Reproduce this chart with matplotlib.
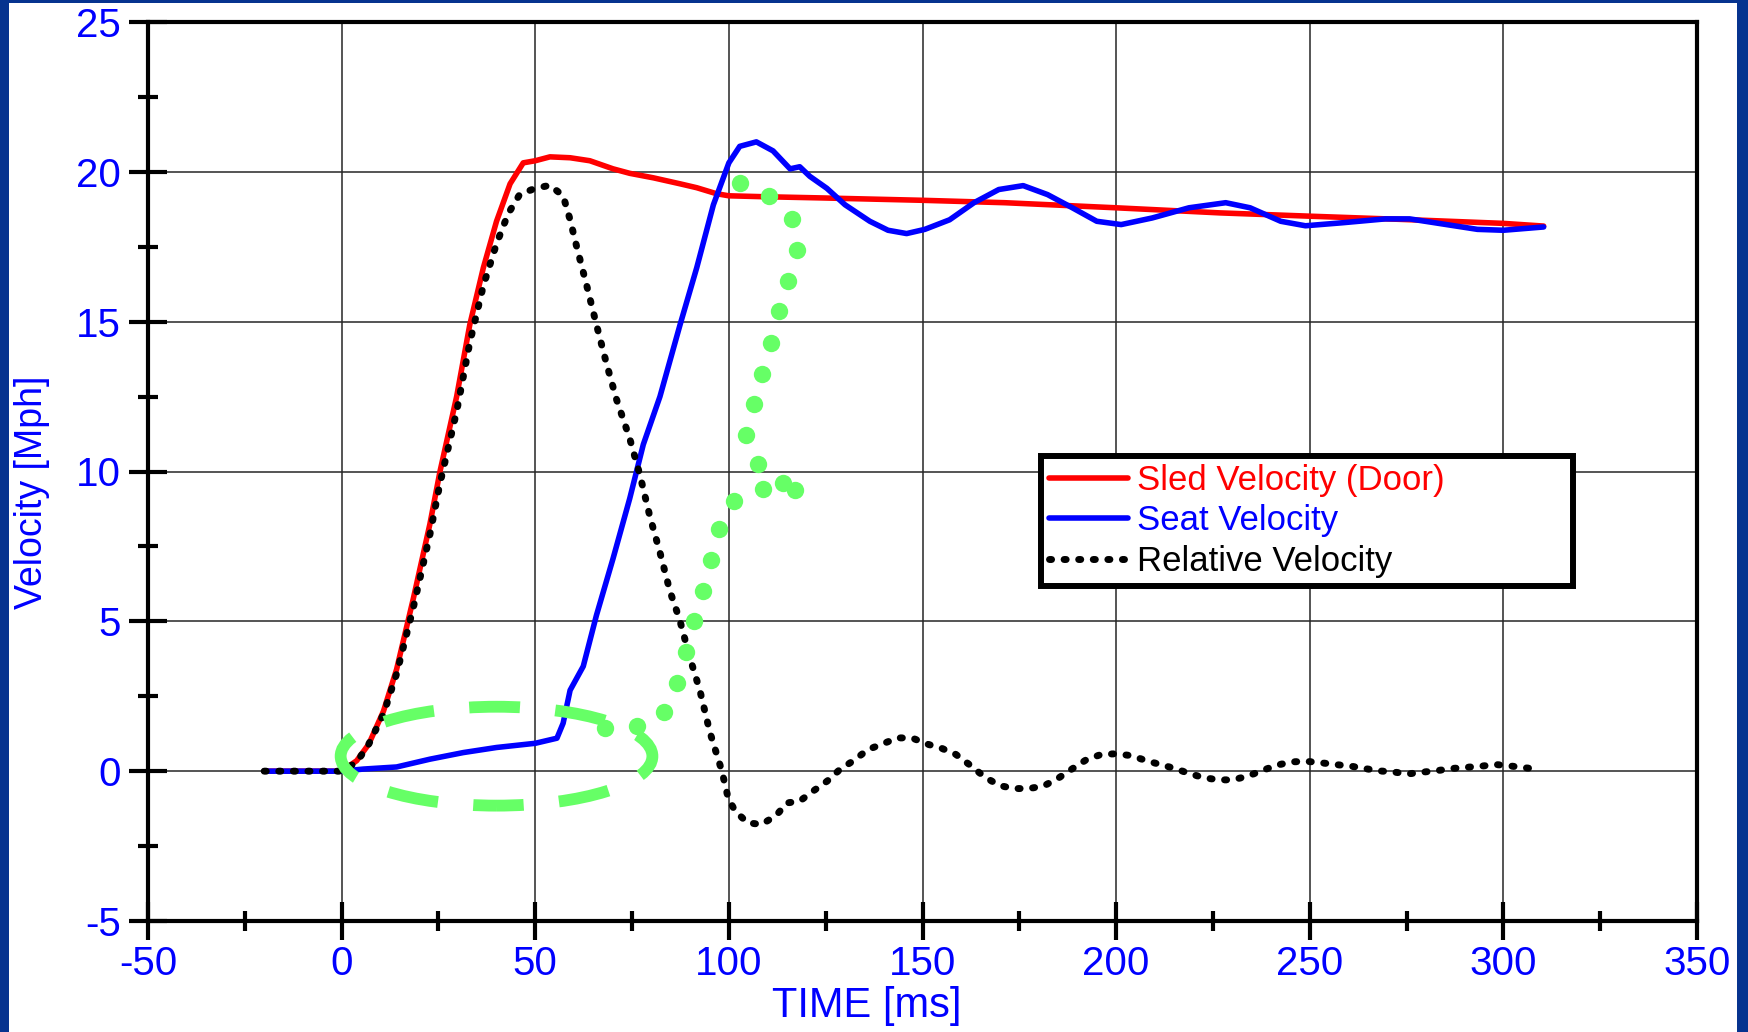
import matplotlib
matplotlib.use("Agg")
import matplotlib.pyplot as plt
from matplotlib.patches import Rectangle, Ellipse
from matplotlib.ticker import MultipleLocator

plt.rcParams["font.family"] = ["Liberation Sans", "DejaVu Sans"]
plt.rcParams["axes.unicode_minus"] = False

# ---------------------------------------------------------------------------
# Data (time in ms, velocity in mph)
# ---------------------------------------------------------------------------
sled_t = [-20, 0, 3.9, 7, 10.8, 14.2, 18.5, 22.8, 25.4, 29.7, 33.1, 36.6,
          40, 43.5, 46.9, 50, 53.8, 59, 64.1, 70.1, 74.4, 80.5, 87.4, 91.7,
          96.8, 100, 108.9, 123.7, 150, 171.2, 200, 226.8, 250, 274.2, 300,
          310.4]
sled_v = [0, 0, 0.35, 0.9, 2.0, 3.4, 5.75, 8.25, 10.0, 12.5, 14.9, 16.8,
          18.35, 19.6, 20.3, 20.37, 20.5, 20.47, 20.37, 20.1, 19.95, 19.8,
          19.6, 19.47, 19.27, 19.2, 19.17, 19.13, 19.05, 18.97, 18.8, 18.63,
          18.52, 18.41, 18.28, 18.19]

seat_t = [-20, 0, 5.6, 14.2, 22.8, 31.4, 40, 50, 55.6, 57.2, 59, 62.4, 65.8,
          70.1, 74.4, 77.9, 82.2, 87.4, 91.7, 96, 100, 102.8, 107.1, 111.4,
          115.8, 118.3, 120.9, 125.3, 130, 136.4, 141.1, 145.9, 150.6, 157,
          163.3, 169.7, 176, 182.3, 188.7, 195, 201.3, 209.3, 218.8, 228.3,
          234.6, 242.5, 248.9, 258.4, 269.5, 275.8, 285.3, 293.3, 300, 310.4]
seat_v = [0, 0, 0.07, 0.14, 0.4, 0.62, 0.79, 0.93, 1.1, 1.6, 2.7, 3.5, 5.2,
          7.1, 9.1, 10.9, 12.5, 14.9, 16.8, 18.9, 20.3, 20.85, 21.0, 20.7,
          20.1, 20.17, 19.85, 19.45, 18.9, 18.35, 18.05, 17.94, 18.08, 18.4,
          18.97, 19.41, 19.54, 19.24, 18.8, 18.35, 18.24, 18.46, 18.8, 18.97,
          18.8, 18.35, 18.2, 18.3, 18.43, 18.43, 18.24, 18.08, 18.05, 18.16]

rel_t = [-20, 0, 3.9, 7, 10.8, 14.2, 18.5, 22.8, 25.4, 29.7, 33.1, 36.6, 40,
         43, 46, 50, 53.8, 57.2, 59, 60.7, 63.3, 65.8, 68.4, 71, 74.4, 77,
         79.6, 82.2, 84.8, 87.3, 89.9, 92.5, 95.1, 98.2, 99.8, 101.6, 104.8,
         108.4, 112.2, 115, 118.3, 121.7, 125.4, 128.7, 132.3, 135.9, 139.7,
         143.5, 147.3, 150.8, 155, 158.6, 162.4, 166.1, 169.9, 173.6, 177.4,
         181.2, 185, 188.8, 192.4, 196.2, 200, 203.8, 207.6, 211.4, 215.2,
         218.9, 222.7, 226.5, 230.1, 233.9, 237.7, 241.5, 245.3, 249.1, 252.9,
         256.7, 260.5, 264.1, 267.9, 271.7, 275.5, 279.3, 283, 286.8, 290.6,
         294.4, 298.2, 302, 305.8, 309.6]
rel_v = [0, 0, 0.3, 0.9, 1.9, 3.25, 5.45, 7.9, 9.6, 12.0, 14.3, 16.2, 17.6,
         18.6, 19.25, 19.45, 19.55, 19.2, 18.4, 17.5, 16.2, 14.9, 13.6, 12.4,
         11.1, 9.9, 8.5, 7.3, 6.0, 5.05, 3.8, 2.7, 1.3, 0, -0.89, -1.33,
         -1.72, -1.78, -1.48, -1.06, -1.0, -0.67, -0.33, 0.06, 0.36, 0.72,
         0.91, 1.11, 1.11, 0.92, 0.76, 0.56, 0.19, -0.2, -0.48, -0.58, -0.58,
         -0.5, -0.24, 0.09, 0.39, 0.56, 0.58, 0.52, 0.36, 0.22, 0.09, -0.08,
         -0.22, -0.29, -0.29, -0.17, 0.02, 0.2, 0.31, 0.33, 0.28, 0.22, 0.17,
         0.09, 0.01, -0.03, -0.09, -0.03, 0.02, 0.09, 0.13, 0.17, 0.22, 0.17,
         0.11, 0.06]

# hand-drawn green markup (dotted arrow paths)
mark_a_t = [68, 76.2, 83.3, 86.5, 88.9, 91, 93.2, 95.4, 97.5, 101.3, 108.9,
            114, 117.2]
mark_a_v = [1.45, 1.5, 1.97, 2.94, 3.97, 5.0, 6.02, 7.06, 8.07, 9.03, 9.42,
            9.6, 9.38]
mark_b_t = [107.4, 104.4, 106.5, 108.6, 110.8, 113, 115.3, 117.5, 116.4,
            110.4, 102.8]
mark_b_v = [10.25, 11.22, 12.26, 13.27, 14.3, 15.35, 16.37, 17.4, 18.42,
            19.18, 19.63]

labels = ["Sled Velocity (Door)", "Seat Velocity", "Relative Velocity"]

BLUE = "#0000ff"
RED = "#ff0000"
GREEN = "#66ff66"

# ---------------------------------------------------------------------------
fig = plt.figure(figsize=(17.48, 10.32), dpi=100)
fig.patch.set_facecolor("#06338f")
fig.patches.append(Rectangle((9 / 1748, 0), 1728 / 1748, 1029 / 1032,
                             transform=fig.transFigure, facecolor="white",
                             edgecolor="none", zorder=-10))

ax = fig.add_axes([148 / 1748, 111 / 1032, 1549 / 1748, 899 / 1032])
ax.set_facecolor("white")

l1, = ax.plot(sled_t, sled_v, color=RED, lw=4, zorder=3,
              solid_capstyle="round", solid_joinstyle="round")
l2, = ax.plot(seat_t, seat_v, color=BLUE, lw=4, zorder=4,
              solid_capstyle="round", solid_joinstyle="round")
l3, = ax.plot(rel_t, rel_v, color="black", lw=5, zorder=5,
              linestyle=(0, (0.3, 1.8)), dash_capstyle="round")

ax.add_patch(Ellipse((40, 0.5), 80.5, 3.3, fill=False, edgecolor=GREEN,
                     lw=8.5, linestyle=(2, (4.3, 3.0)), zorder=6))
ax.plot(mark_a_t, mark_a_v, "o", color=GREEN, ms=12.5, mec="none", zorder=7)
ax.plot(mark_b_t, mark_b_v, "o", color=GREEN, ms=12.5, mec="none", zorder=7)

ax.set_xlim(-50, 350)
ax.set_ylim(-5, 25)
ax.xaxis.set_major_locator(MultipleLocator(50))
ax.xaxis.set_minor_locator(MultipleLocator(25))
ax.yaxis.set_major_locator(MultipleLocator(5))
ax.yaxis.set_minor_locator(MultipleLocator(2.5))
ax.grid(True, which="major", color="0.15", lw=1.1, zorder=1)
ax.set_axisbelow(True)

for s in ax.spines.values():
    s.set_linewidth(3)
    s.set_zorder(8)

ax.tick_params(which="major", direction="inout", length=27, width=3,
               labelsize=29, labelcolor=BLUE)
ax.tick_params(axis="x", which="major", pad=4)
ax.tick_params(axis="y", which="major", pad=6)
ax.tick_params(which="minor", direction="inout", length=15, width=3)

ax.set_xlabel("TIME [ms]", fontsize=30, color=BLUE)
ax.set_ylabel("Velocity [Mph]", fontsize=27, color=BLUE)
ax.xaxis.set_label_coords(0.464, -0.072)
ax.yaxis.set_label_coords(-0.063, 0.477)

leg = ax.legend([l1, l2, l3], labels, loc="upper left",
                bbox_to_anchor=(0.5765, 0.367, 0.3434, 0.150),
                mode="expand", borderaxespad=0, fontsize=25,
                handlelength=2.3, handletextpad=0.25, labelspacing=0.22,
                borderpad=0.22, fancybox=False, framealpha=1,
                edgecolor="black")
leg.get_frame().set_linewidth(4.3)
leg.set_zorder(9)
for txt, c in zip(leg.get_texts(), [RED, BLUE, "black"]):
    txt.set_color(c)

fig.savefig("out.png", dpi=100, facecolor=fig.get_facecolor())
